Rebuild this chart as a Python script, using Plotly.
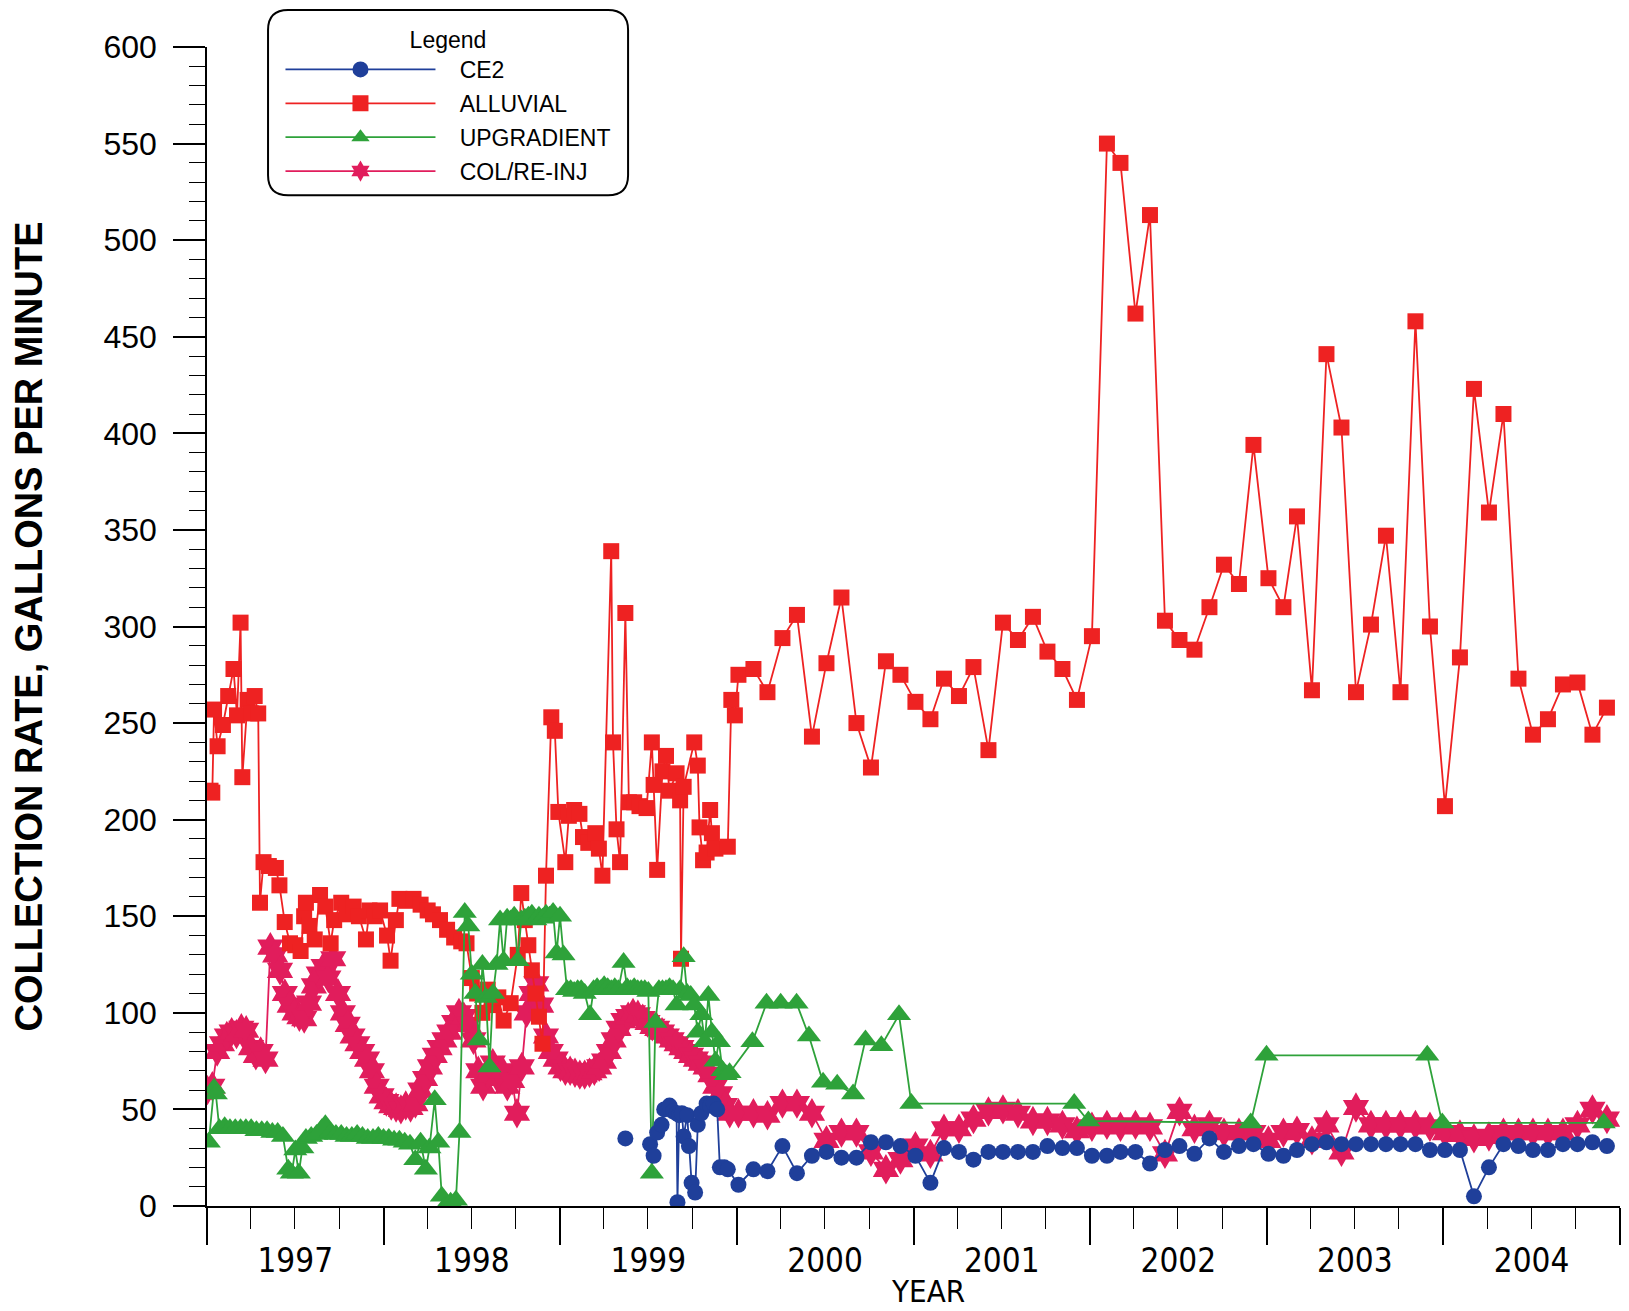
import pandas as pd
from plotly import graph_objects as go

# ---- data ----
# ALLUVIAL: irregular samples 1997-1999 (decimal years), then monthly 2000-2004
alluvial_early_year = [
    1997.02, 1997.03, 1997.04, 1997.06, 1997.09, 1997.12, 1997.15, 1997.17, 1997.19, 1997.20,
    1997.23, 1997.25, 1997.27, 1997.29, 1997.30, 1997.32, 1997.35, 1997.39, 1997.41, 1997.44,
    1997.47, 1997.50, 1997.53, 1997.55, 1997.56, 1997.58, 1997.61, 1997.64, 1997.67, 1997.70,
    1997.72, 1997.76, 1997.79, 1997.83, 1997.86, 1997.90, 1997.92, 1997.95, 1997.98, 1998.02,
    1998.04, 1998.07, 1998.09, 1998.13, 1998.17, 1998.21, 1998.25, 1998.28, 1998.32, 1998.36,
    1998.40, 1998.44, 1998.47, 1998.50, 1998.53, 1998.56, 1998.59, 1998.62, 1998.65, 1998.68,
    1998.72, 1998.76, 1998.78, 1998.80, 1998.82, 1998.84, 1998.86, 1998.88, 1998.90, 1998.92,
    1998.95, 1998.97, 1998.99, 1999.03, 1999.05, 1999.08, 1999.11, 1999.13, 1999.16, 1999.20,
    1999.22, 1999.24, 1999.29, 1999.30, 1999.32, 1999.34, 1999.37, 1999.39, 1999.42, 1999.45,
    1999.49, 1999.52, 1999.53, 1999.55, 1999.58, 1999.60, 1999.62, 1999.66, 1999.68, 1999.685,
    1999.70, 1999.76, 1999.78, 1999.79, 1999.81, 1999.83, 1999.85, 1999.86, 1999.88, 1999.95,
    1999.97, 1999.99,
]
alluvial_early_rate = [
    215, 214, 257, 238, 249, 264, 278, 254, 302, 222,
    262, 255, 264, 255, 157, 178, 176, 175, 166, 147,
    136, 135, 132, 150, 157, 145, 138, 161, 155, 136,
    148, 157, 151, 155, 150, 138, 153, 150, 153, 140,
    127, 148, 159, 158, 159, 156, 153, 151, 148, 143,
    139, 137, 136, 118, 110, 100, 112, 104, 108, 96,
    105, 130, 162, 148, 135, 122, 110, 98, 84, 171,
    253, 246, 204, 178, 202, 205, 203, 191, 188, 193,
    185, 171, 339, 240, 195, 178, 307, 209, 209, 207,
    206, 240, 218, 174, 225, 233, 215, 224, 210, 128,
    217, 240, 228, 196, 179, 183, 205, 193, 185, 186,
    262, 254,
]
alluvial_monthly_rate = [
    275, 278, 266, 294, 306, 243, 281, 315, 250, 227,
    282, 275, 261, 252, 273, 264, 279, 236, 302, 293,
    305, 287, 278, 262, 295, 550, 540, 462, 513, 303,
    293, 288, 310, 332, 322, 394, 325, 310, 357, 267,
    441, 403, 266, 301, 347, 266, 458, 300, 207, 284,
    423, 359, 410, 273, 244, 252, 270, 271, 244, 258,
]

# CE2: a lone reading, a gap, frequent readings in late 1999, then monthly
ce2_early_year = [
    1999.37, 1999.44, 1999.51, 1999.53, 1999.55, 1999.575, 1999.59, 1999.62, 1999.64, 1999.66,
    1999.665, 1999.675, 1999.69, 1999.70, 1999.72, 1999.73, 1999.745, 1999.765, 1999.78, 1999.80,
    1999.83, 1999.85, 1999.87, 1999.89, 1999.905, 1999.93, 1999.95,
]
ce2_early_rate = [
    35, None, 32, 26, 38, 42, 50, 52, 49, 48,
    2, 47, 48, 36, 47, 31, 12, 7, 42, 48,
    53, 52, 53, 50, 20, 20, 19,
]
ce2_monthly_rate = [
    11, 19, 18, 31, 17, 26, 28, 25, 25, 33,
    33, 31, 26, 12, 30, 28, 24, 28, 28, 28,
    28, 31, 30, 30, 26, 26, 28, 28, 22, 29,
    31, 27, 35, 28, 31, 32, 27, 26, 29, 32,
    33, 32, 32, 32, 32, 32, 32, 29, 29, 29,
    5, 20, 32, 31, 29, 29, 32, 32, 33, 31,
]

# UPGRADIENT: irregular samples throughout
upgradient_year = [
    1997.01, 1997.04, 1997.05, 1997.07, 1997.10, 1997.13, 1997.16, 1997.19, 1997.22, 1997.25,
    1997.28, 1997.31, 1997.34, 1997.37, 1997.40, 1997.43, 1997.46, 1997.48, 1997.50, 1997.52,
    1997.54, 1997.56, 1997.59, 1997.62, 1997.65, 1997.67, 1997.70, 1997.73, 1997.76, 1997.79,
    1997.82, 1997.85, 1997.88, 1997.91, 1997.94, 1997.97, 1998.00, 1998.03, 1998.06, 1998.09,
    1998.12, 1998.15, 1998.18, 1998.21, 1998.24, 1998.26, 1998.29, 1998.31, 1998.33, 1998.35,
    1998.38, 1998.41, 1998.43, 1998.46, 1998.48, 1998.50, 1998.52, 1998.54, 1998.56, 1998.58,
    1998.60, 1998.62, 1998.64, 1998.66, 1998.68, 1998.70, 1998.72, 1998.74, 1998.76, 1998.78,
    1998.80, 1998.82, 1998.84, 1998.86, 1998.88, 1998.90, 1998.92, 1998.94, 1998.96, 1998.98,
    1999.00, 1999.02, 1999.04, 1999.06, 1999.08, 1999.10, 1999.12, 1999.14, 1999.17, 1999.19,
    1999.21, 1999.23, 1999.25, 1999.27, 1999.29, 1999.31, 1999.33, 1999.36, 1999.38, 1999.40,
    1999.42, 1999.44, 1999.46, 1999.48, 1999.50, 1999.52, 1999.54, 1999.56, 1999.58, 1999.60,
    1999.62, 1999.64, 1999.66, 1999.68, 1999.70, 1999.72, 1999.74, 1999.76, 1999.78, 1999.80,
    1999.82, 1999.84, 1999.86, 1999.88, 1999.90, 1999.92, 1999.94, 1999.96, 2000.09, 2000.17,
    2000.25, 2000.34, 2000.41, 2000.49, 2000.57, 2000.66, 2000.73, 2000.82, 2000.92, 2000.99,
    2001.91, 2001.99, 2002.91, 2003.00, 2003.91, 2003.995, 2004.91,
]
upgradient_rate = [
    33, 61, 58, 40, 41, 40, 40, 40, 40, 40,
    39, 39, 39, 38, 38, 36, 19, 17, 29, 17,
    30, 35, 36, 37, 40, 42, 38, 37, 37, 36,
    36, 37, 36, 35, 35, 36, 35, 35, 34, 34,
    33, 32, 24, 33, 19, 30, 55, 33, 5, 0,
    2, 3, 38, 152, 145, 120, 110, 86, 125, 108,
    72, 110, 125, 148, 127, 149, 148, 150, 127, 148,
    149, 150, 151, 148, 150, 149, 151, 150, 152, 131,
    150, 130, 112, 112, 111, 112, 112, 110, 99, 112,
    113, 112, 114, 113, 112, 113, 112, 126, 113, 112,
    113, 112, 112, 112, 111, 17, 95, 112, 112, 112,
    113, 112, 104, 112, 129, 110, 109, 104, 90, 99,
    85, 109, 90, 75, 85, 70, 68, 69, 85, 105,
    105, 105, 88, 64, 63, 58, 86, 83, 99, 53,
    53, 44, 43, 78, 78, 43, 43,
]

# COL/RE-INJ: readings every 10 days from 1997-01-02, then monthly 2000-2004
colreinj_dense_start = "1997-01-02"
colreinj_dense_rate = [
    60, 62, 80, 84, 88, 90, 89, 92, 91, 82,
    78, 80, 76, 134, 130, 122, 110, 104, 100, 98,
    97, 105, 114, 120, 124, 118, 128, 110, 100, 94,
    88, 84, 80, 76, 70, 62, 57, 54, 52, 51,
    50, 52, 51, 53, 60, 66, 72, 78, 82, 86,
    90, 95, 100, 98, 94, 86, 70, 62, 68, 74,
    66, 70, 62, 65, 48, 72, 100, 110, 115, 104,
    88, 80, 76, 72, 70, 70, 69, 68, 68, 69,
    70, 72, 75, 80, 86, 92, 96, 98, 100, 99,
    97, 95, 93, 92, 90, 88, 86, 84, 82, 80,
    78, 76, 74, 72, 68, 62, 58, 52, 48,
]
colreinj_monthly_rate = [
    48, 48, 47, 53, 53, 48, 34, 38, 38, 28,
    19, 24, 31, 27, 40, 40, 45, 49, 50, 48,
    44, 44, 42, 39, 41, 42, 41, 42, 41, 27,
    49, 40, 42, 38, 38, 38, 34, 38, 39, 34,
    42, 28, 51, 42, 42, 42, 42, 41, 38, 37,
    35, 36, 38, 38, 38, 38, 38, 42, 50, 45,
]


def to_dates(years):
    out = []
    for y in years:
        whole = int(y)
        out.append(pd.Timestamp(whole, 1, 1) + pd.Timedelta(days=(y - whole) * 365.25))
    return out


monthly_dates = list(pd.date_range("2000-01-01", periods=60, freq="MS") + pd.Timedelta(days=4))
dense_dates = list(pd.date_range(colreinj_dense_start, periods=len(colreinj_dense_rate), freq="10D"))

series = [
    # name, x, y, colour, symbol, size, legend rank
    ("COL/RE-INJ", dense_dates + monthly_dates, colreinj_dense_rate + colreinj_monthly_rate,
     "#e11d5c", "hexagram", 23, 4),
    ("ALLUVIAL", to_dates(alluvial_early_year) + monthly_dates, alluvial_early_rate + alluvial_monthly_rate,
     "#ee2222", "square", 16, 2),
    ("UPGRADIENT", to_dates(upgradient_year), upgradient_rate,
     "#2ea23a", "triangle-up", 21, 3),
    ("CE2", to_dates(ce2_early_year) + monthly_dates, ce2_early_rate + ce2_monthly_rate,
     "#1f3f9a", "circle", 16, 1),
]

fig = go.Figure()
for name, xs, ys, colour, symbol, size, rank in series:
    fig.add_trace(
        go.Scatter(
            x=xs,
            y=ys,
            name="\u00a0\u00a0\u00a0" + name,
            legendgroup=name,
            mode="lines+markers",
            line={"color": colour, "width": 1.8},
            marker={"color": colour, "symbol": symbol, "size": size, "line": {"width": 0}},
            legendrank=rank,
        )
    )

axis_font = {"family": "Liberation Sans, Arial", "size": 32, "color": "black"}
year_font = {"family": "DejaVu Sans Condensed, DejaVu Sans, sans-serif", "size": 33, "color": "black"}
legend_font = {"family": "Liberation Sans, Arial", "size": 23, "color": "black"}

# the page body adds an 8 px margin, so the figure is a little smaller than the window
fig.update_layout(
    width=1621,
    height=1303,
    margin={"l": 199, "r": 9, "t": 39, "b": 105},
    paper_bgcolor="white",
    plot_bgcolor="white",
    showlegend=True,
    legend={
        "x": 0.052,
        "y": 1.025,
        "xanchor": "left",
        "yanchor": "top",
        "bgcolor": "rgba(0,0,0,0)",
        "borderwidth": 0,
        "itemwidth": 150,
        "traceorder": "grouped",
        "tracegroupgap": 1,
        "font": legend_font,
        "title": {"text": "Legend", "side": "top center", "font": legend_font},
    },
    xaxis={
        "type": "date",
        "range": ["1997-01-01", "2005-01-01"],
        "tick0": "1997-01-01",
        "dtick": "M12",
        "tickformat": "%Y",
        "ticklabelmode": "period",
        "ticklabelstandoff": -12,
        "ticks": "outside",
        "ticklen": 37,
        "tickwidth": 1.5,
        "tickcolor": "black",
        "showline": True,
        "linecolor": "black",
        "linewidth": 1.5,
        "showgrid": False,
        "zeroline": False,
        "tickfont": year_font,
        "minor": {"dtick": "M3", "ticks": "outside", "ticklen": 21, "tickwidth": 1.2,
                  "tickcolor": "black", "showgrid": False},
    },
    yaxis={
        "range": [0, 600],
        "dtick": 50,
        "ticks": "outside",
        "ticklen": 32,
        "tickwidth": 1.5,
        "tickcolor": "black",
        "showline": True,
        "linecolor": "black",
        "linewidth": 1.5,
        "showgrid": False,
        "zeroline": False,
        "tickfont": axis_font,
        "ticklabelstandoff": 10,
        "minor": {"dtick": 10, "ticks": "outside", "ticklen": 16, "tickwidth": 1.2,
                  "tickcolor": "black", "showgrid": False},
    },
)

# rounded legend frame
x0, x1, y0, y1 = 0.0432, 0.298, 0.872, 1.032
rx, ry = 0.0142, 0.0173
frame = (
    f"M {x0 + rx},{y1} L {x1 - rx},{y1} Q {x1},{y1} {x1},{y1 - ry} "
    f"L {x1},{y0 + ry} Q {x1},{y0} {x1 - rx},{y0} "
    f"L {x0 + rx},{y0} Q {x0},{y0} {x0},{y0 + ry} "
    f"L {x0},{y1 - ry} Q {x0},{y1} {x0 + rx},{y1} Z"
)
fig.add_shape(type="path", path=frame, xref="paper", yref="paper",
              line={"color": "black", "width": 2}, layer="above")

fig.add_annotation(
    text="<b>COLLECTION RATE, GALLONS PER MINUTE</b>",
    xref="paper", yref="paper", x=-0.126, y=0.5,
    textangle=-90, showarrow=False, xanchor="center", yanchor="middle",
    font={"family": "Liberation Sans, Arial", "size": 38, "color": "black"},
)
fig.add_annotation(
    text="YEAR",
    xref="paper", yref="paper", x=0.51, y=-0.073,
    showarrow=False, xanchor="center", yanchor="middle",
    font={"family": "DejaVu Sans Condensed, DejaVu Sans, sans-serif", "size": 31, "color": "black"},
)

fig.write_html("out.html")
